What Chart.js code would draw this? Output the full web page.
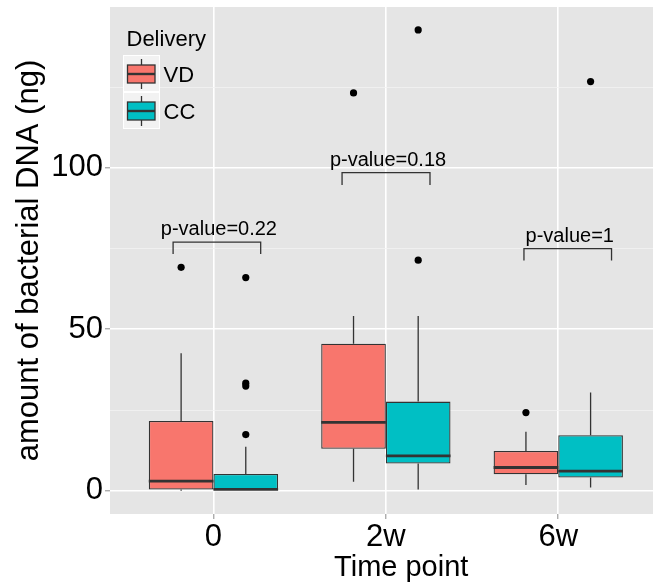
<!DOCTYPE html>
<html><head><meta charset="utf-8">
<script src="https://cdn.jsdelivr.net/npm/chart.js@4.4.1/dist/chart.umd.min.js"></script>
<style>
html,body{margin:0;padding:0;background:#fff;overflow:hidden;}
#wrap{width:653px;height:588px;overflow:hidden;position:relative;}
canvas{display:block;}
</style>
</head><body>
<div id="wrap"><canvas id="c" width="696" height="588"></canvas></div>
<script>
// ---- data ----
const categories = ['0', '2w', '6w'];
const seriesNames = ['VD', 'CC'];
const vdLow    = [0.0, 2.8, 1.8];
const vdQ1     = [0.4, 13.0, 5.1];
const vdMedian = [3.0, 21.2, 7.2];
const vdQ3     = [21.6, 45.5, 12.3];
const vdHigh   = [42.6, 54.1, 18.3];
const vdOutliers = [[69.2], [123.2], [24.2]];
const ccLow    = [0.0, 0.4, 1.0];
const ccQ1     = [0.0, 8.4, 4.1];
const ccMedian = [0.4, 10.8, 6.1];
const ccQ3     = [5.2, 27.6, 17.2];
const ccHigh   = [13.6, 54.1, 30.4];
const ccOutliers = [[17.4, 32.4, 33.3, 66.0], [71.4, 142.7], [126.7]];
const yTicks  = [0, 25, 50, 75, 100, 125];
const yLabels = ['0', '', '50', '', '100', ''];
const pLabels = ['p-value=0.22', 'p-value=0.18', 'p-value=1'];
const bracketStart  = [-0.234, 0.746, 1.801];
const bracketEnd    = [0.274, 1.256, 2.309];
const bracketTop    = [77.0, 98.5, 75.0];
const bracketBottom = [73.3, 94.7, 71.3];

// ---- styling ----
const FONT = "'Liberation Sans', Arial, Helvetica, sans-serif";
const colors = {VD: '#F8766D', CC: '#00BFC4'};
const LINE = '#333333';
const DODGE = 0.75 / 4;

function boxData(q1, q3) { return categories.map((c, i) => ({x: i, y: [q1[i], q3[i]]})); }
function outlierData(list, off) {
  const out = [];
  list.forEach((vals, i) => vals.forEach(v => out.push({x: i + off, y: v})));
  return out;
}

const bgPlugin = {
  id: 'bg',
  beforeDraw(chart) {
    const {ctx, chartArea: a} = chart;
    ctx.save();
    ctx.fillStyle = '#E5E5E5';
    ctx.fillRect(a.left, a.top, a.right - a.left, a.bottom - a.top);
    ctx.restore();
  }
};

const boxPlugin = {
  id: 'boxExtras',
  afterDatasetDraw(chart, args) {
    const ds = chart.data.datasets[args.index];
    if (!ds.stats) return;
    const ctx = chart.ctx, ys = chart.scales.y;
    ctx.save();
    ctx.strokeStyle = LINE;
    args.meta.data.forEach((el, i) => {
      const cx = el.x, w = el.width;
      ctx.lineWidth = 1.3;
      ctx.beginPath();
      ctx.moveTo(cx, ys.getPixelForValue(ds.stats.high[i]));
      ctx.lineTo(cx, ys.getPixelForValue(ds.stats.q3[i]));
      ctx.moveTo(cx, ys.getPixelForValue(ds.stats.q1[i]));
      ctx.lineTo(cx, ys.getPixelForValue(ds.stats.low[i]));
      ctx.stroke();
      ctx.lineWidth = 2.8;
      const my = ys.getPixelForValue(ds.stats.median[i]);
      ctx.beginPath();
      ctx.moveTo(cx - w / 2, my);
      ctx.lineTo(cx + w / 2, my);
      ctx.stroke();
    });
    ctx.restore();
  }
};

const annotPlugin = {
  id: 'annot',
  afterDatasetsDraw(chart) {
    const ctx = chart.ctx, xs = chart.scales.x, ys = chart.scales.y;
    ctx.save();
    ctx.strokeStyle = LINE;
    ctx.lineWidth = 1.3;
    ctx.fillStyle = '#000';
    ctx.font = '20px ' + FONT;
    ctx.textAlign = 'center';
    ctx.textBaseline = 'alphabetic';
    pLabels.forEach((lab, i) => {
      const x1 = xs.getPixelForValue(bracketStart[i]);
      const x2 = xs.getPixelForValue(bracketEnd[i]);
      const yt = ys.getPixelForValue(bracketTop[i]);
      const yb = ys.getPixelForValue(bracketBottom[i]);
      ctx.beginPath();
      ctx.moveTo(x1, yb); ctx.lineTo(x1, yt); ctx.lineTo(x2, yt); ctx.lineTo(x2, yb);
      ctx.stroke();
      ctx.fillText(lab, (x1 + x2) / 2 + 2, yt - 7);
    });
    ctx.restore();
  }
};

const legendPlugin = {
  id: 'ggLegend',
  afterDraw(chart) {
    const ctx = chart.ctx;
    ctx.save();
    ctx.fillStyle = '#000';
    ctx.font = '22px ' + FONT;
    ctx.textAlign = 'left';
    ctx.textBaseline = 'alphabetic';
    ctx.fillText('Delivery', 126.5, 46);
    seriesNames.forEach((name, k) => {
      const top = 55 + k * 37;
      ctx.fillStyle = '#F2F2F2';
      ctx.fillRect(123, top, 37, 37);
      ctx.strokeStyle = '#FFFFFF';
      ctx.lineWidth = 1;
      ctx.strokeRect(123.5, top + 0.5, 36, 36);
      ctx.strokeStyle = LINE;
      ctx.lineWidth = 1.3;
      ctx.beginPath();
      ctx.moveTo(141.5, top + 4); ctx.lineTo(141.5, top + 34);
      ctx.stroke();
      ctx.fillStyle = colors[name];
      ctx.fillRect(127.5, top + 10, 27.5, 18);
      ctx.strokeRect(127.5, top + 10, 27.5, 18);
      ctx.lineWidth = 2.4;
      ctx.beginPath();
      ctx.moveTo(127.5, top + 19); ctx.lineTo(155, top + 19);
      ctx.stroke();
      ctx.fillStyle = '#000';
      ctx.font = '22px ' + FONT;
      ctx.fillText(name, 163.5, top + 27);
    });
    ctx.restore();
  }
};

const isMajor = v => v % 50 === 0;

new Chart(document.getElementById('c'), {
  type: 'bar',
  data: {
    datasets: [
      {type: 'scatter', label: 'VD outliers', data: outlierData(vdOutliers, -DODGE), order: 0,
       pointRadius: 3.6, pointHoverRadius: 3.6, backgroundColor: '#000', borderWidth: 0},
      {type: 'scatter', label: 'CC outliers', data: outlierData(ccOutliers, DODGE), order: 0,
       pointRadius: 3.6, pointHoverRadius: 3.6, backgroundColor: '#000', borderWidth: 0},
      {label: 'VD', data: boxData(vdQ1, vdQ3), order: 1,
       backgroundColor: colors.VD, borderColor: LINE, borderWidth: 1.3, borderSkipped: false,
       stats: {low: vdLow, q1: vdQ1, median: vdMedian, q3: vdQ3, high: vdHigh}},
      {label: 'CC', data: boxData(ccQ1, ccQ3), order: 1,
       backgroundColor: colors.CC, borderColor: LINE, borderWidth: 1.3, borderSkipped: false,
       stats: {low: ccLow, q1: ccQ1, median: ccMedian, q3: ccQ3, high: ccHigh}}
    ]
  },
  options: {
    responsive: false,
    animation: false,
    devicePixelRatio: 1,
    categoryPercentage: 0.75,
    barPercentage: 1.0,
    layout: {padding: {top: 7, left: 0, right: 0, bottom: 0}},
    plugins: {legend: {display: false}, tooltip: {enabled: false}},
    scales: {
      x: {
        type: 'linear', min: -0.6, max: 2.778, offset: false, bounds: 'data',
        afterBuildTicks: s => { s.ticks = categories.map((c, i) => ({value: i})); },
        afterFit: s => { s.height = 74; s.paddingLeft = 0; s.paddingRight = 0; },
        ticks: {
          callback: v => categories[v] ?? '',
          color: '#000', padding: 1,
          font: {family: FONT, size: 31, lineHeight: 1.1},
          maxRotation: 0, autoSkip: false
        },
        grid: {offset: false, color: '#FFFFFF', lineWidth: 1.6, tickColor: '#8A8A8A', tickWidth: 1, tickLength: 5},
        border: {display: false},
        title: {display: true, text: 'Time point', color: '#000',
                font: {family: FONT, size: 29}, padding: {top: 0, bottom: 3}}
      },
      y: {
        type: 'linear', min: -7.2, max: 149.8, bounds: 'data',
        afterBuildTicks: s => { s.ticks = yTicks.map(v => ({value: v})); },
        afterFit: s => { s.width = 110; s.paddingTop = 0; s.paddingBottom = 0; },
        ticks: {
          callback: (v) => yLabels[yTicks.indexOf(v)] ?? '',
          color: '#000', padding: 2,
          font: {family: FONT, size: 31}
        },
        grid: {
          color: c => isMajor(c.tick.value) ? '#FFFFFF' : '#F2F2F2',
          lineWidth: c => isMajor(c.tick.value) ? 1.6 : 0.8,
          tickColor: c => isMajor(c.tick.value) ? '#8A8A8A' : 'rgba(0,0,0,0)',
          tickWidth: 1, tickLength: 5
        },
        border: {display: false},
        title: {display: true, text: 'amount of bacterial DNA (ng)', color: '#000',
                font: {family: FONT, size: 31}, padding: {top: 11, bottom: 0}}
      }
    }
  },
  plugins: [bgPlugin, boxPlugin, annotPlugin, legendPlugin]
});
</script>
</body></html>
